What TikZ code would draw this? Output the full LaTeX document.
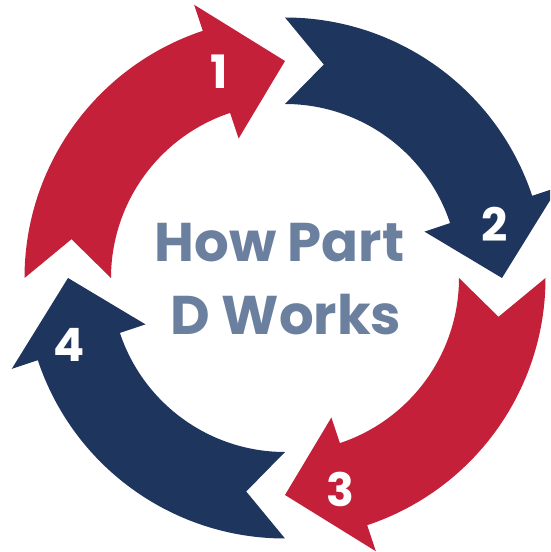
\documentclass[tikz,border=0pt]{standalone}
\usepackage{fontspec}
\setmainfont{Poppins}
\definecolor{cred}{HTML}{C4203A}
\definecolor{cnavy}{HTML}{1E355E}
\definecolor{ctext}{HTML}{6B7F9F}
\tikzset{
  numlabel/.style={text=white, font=\fontsize{46}{46}\selectfont\bfseries, inner sep=0pt},
  titlelabel/.style={text=ctext, font=\fontsize{54.5}{54.5}\selectfont\bfseries, inner sep=0pt, anchor=base}
}
\newcommand{\cyclearrow}[2]{%
  \fill[#2] (#1:260.5) -- (#1-10.3:217) -- (#1:174)
    arc[start angle=#1, end angle=#1-71.6, radius=174]
    -- (#1-71.6:147) -- (#1-90:217) -- (#1-71.6:288)
    -- (#1-71.6:260.5)
    arc[start angle=#1-71.6, end angle=#1, radius=260.5] -- cycle;}
\begin{document}
\begin{tikzpicture}[x=1pt,y=1pt]
\useasboundingbox (0,0) rectangle (550,552);
\clip (0,0) rectangle (550,552);
\begin{scope}[shift={(285,274)}]
  \cyclearrow{180}{cred}
  \cyclearrow{90}{cnavy}
  \cyclearrow{0}{cred}
  \cyclearrow{270}{cnavy}
\end{scope}
\node[numlabel] (n1) at (219,480) {1};
\node[numlabel] (n2) at (494.5,328) {2};
\node[numlabel] (n3) at (340,62.5) {3};
\node[numlabel] (n4) at (69.5,207) {4};
\node[titlelabel] (t1) at (279.5,290) {How Part};
\node[titlelabel] (t2) at (286,217) {D Works};
\end{tikzpicture}
\end{document}
